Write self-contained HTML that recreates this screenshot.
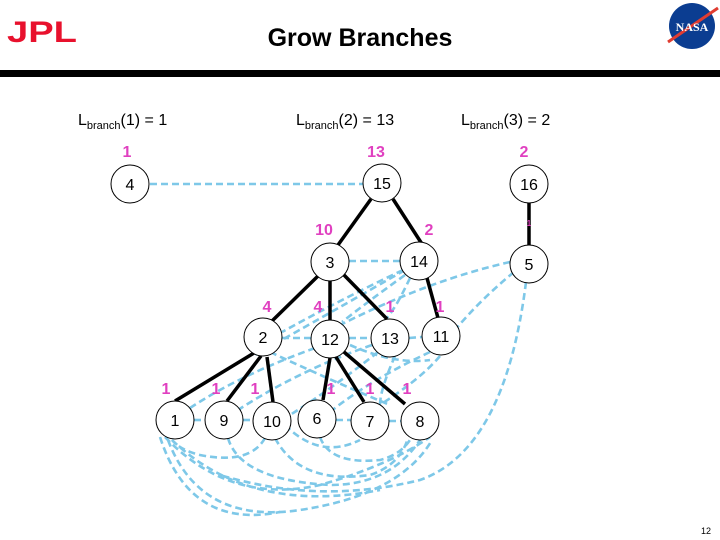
<!DOCTYPE html>
<html><head><meta charset="utf-8"><style>
body{margin:0;width:720px;height:540px;background:#fff;overflow:hidden;font-family:"Liberation Sans",Arial,sans-serif}
svg{position:absolute;left:0;top:0}
</style></head><body>
<svg width="720" height="540" viewBox="0 0 720 540" font-family="Liberation Sans, Arial, sans-serif">
<!-- JPL logo -->
<text x="7" y="42" font-size="30" font-weight="bold" fill="#e8112d" textLength="70" lengthAdjust="spacingAndGlyphs">JPL</text>
<!-- NASA logo -->
<circle cx="692" cy="26" r="23" fill="#0b3d91"/>
<path d="M668 42 L718 8" stroke="#e03c31" stroke-width="3"/>
<text x="692" y="31" font-size="12" font-weight="bold" fill="#fff" text-anchor="middle" font-family="Liberation Serif, serif">NASA</text>
<text x="360" y="46" font-size="25" font-weight="bold" text-anchor="middle" fill="#000">Grow Branches</text>
<rect x="0" y="70" width="720" height="7" fill="#000"/>
<g font-size="16" fill="#000">
<text x="78" y="125">L<tspan font-size="11" dy="4">branch</tspan><tspan dy="-4">(1) = 1</tspan></text>
<text x="296" y="125">L<tspan font-size="11" dy="4">branch</tspan><tspan dy="-4">(2) = 13</tspan></text>
<text x="461" y="125">L<tspan font-size="11" dy="4">branch</tspan><tspan dy="-4">(3) = 2</tspan></text>
</g>
<g fill="none" stroke="#7ec8e8" stroke-width="2.6" stroke-dasharray="7,4">
<line x1="150" y1="184" x2="363" y2="184"/>
<line x1="349" y1="261" x2="400" y2="261"/>
<line x1="282" y1="338" x2="311" y2="338"/>
<line x1="349" y1="338" x2="371" y2="338"/>
<line x1="409" y1="338" x2="422" y2="337"/>
<line x1="194" y1="420" x2="205" y2="420"/>
<line x1="243" y1="420" x2="251" y2="420"/>
<line x1="336" y1="420" x2="351" y2="420"/>
<line x1="389" y1="421" x2="401" y2="421"/>
<path d="M403 270 Q340 300 282 332"/>
<path d="M405 275 Q370 300 342 322"/>
<path d="M410 278 Q395 310 385 320"/>
<path d="M510 262 Q430 280 340 325"/>
<path d="M514 272 Q480 300 455 330"/>
<path d="M526 282 Q505 450 420 480 Q320 505 220 475"/>
<path d="M405 270 Q300 330 255 355"/>
<path d="M372 345 Q300 370 238 410"/>
<path d="M315 348 Q240 375 190 408"/>
<path d="M430 352 Q370 380 330 412"/>
<path d="M378 352 Q330 390 290 415"/>
<path d="M270 352 Q330 380 390 405"/>
<path d="M350 345 Q395 365 430 360"/>
<path d="M440 356 Q420 380 375 408"/>
<path d="M395 356 Q380 390 380 405"/>
<path d="M165 437 Q230 505 320 485 Q390 465 430 437"/>
<path d="M168 440 Q200 525 300 510 Q400 495 432 440"/>
<path d="M172 440 Q250 515 380 490"/>
<path d="M228 438 Q240 480 330 485 Q390 485 420 440"/>
<path d="M265 438 Q250 465 200 455 Q180 450 172 440"/>
<path d="M275 438 Q300 485 370 475 Q400 465 408 438"/>
<path d="M320 437 Q330 465 380 460 Q400 455 410 440"/>
<path d="M285 425 Q320 460 360 440"/>
<path d="M160 437 Q190 530 280 512"/>
</g>
<g stroke="#000" stroke-width="3.5">
<line x1="371" y1="199" x2="338" y2="245"/>
<line x1="393" y1="199" x2="422" y2="244"/>
<line x1="529" y1="203" x2="529" y2="245"/>
<line x1="318" y1="276" x2="272" y2="321"/>
<line x1="330" y1="281" x2="330" y2="320"/>
<line x1="344" y1="275" x2="387" y2="319"/>
<line x1="427" y1="278" x2="438" y2="318"/>
<line x1="254" y1="353" x2="175" y2="401"/>
<line x1="261" y1="356" x2="227" y2="401"/>
<line x1="267" y1="357" x2="273" y2="402"/>
<line x1="330" y1="358" x2="323" y2="400"/>
<line x1="336" y1="357" x2="364" y2="402"/>
<line x1="344" y1="352" x2="405" y2="404"/>
</g>
<g fill="#fff" stroke="#000" stroke-width="1">
<circle cx="130" cy="184" r="19"/><circle cx="382" cy="183" r="19"/><circle cx="529" cy="184" r="19"/>
<circle cx="330" cy="262" r="19"/><circle cx="419" cy="261" r="19"/><circle cx="529" cy="264" r="19"/>
<circle cx="263" cy="337" r="19"/><circle cx="330" cy="339" r="19"/><circle cx="390" cy="338" r="19"/><circle cx="441" cy="336" r="19"/>
<circle cx="175" cy="420" r="19"/><circle cx="224" cy="420" r="19"/><circle cx="272" cy="421" r="19"/><circle cx="317" cy="419" r="19"/><circle cx="370" cy="421" r="19"/><circle cx="420" cy="421" r="19"/>
</g>
<g font-size="16" text-anchor="middle" fill="#000">
<text x="130" y="190">4</text><text x="382" y="189">15</text><text x="529" y="190">16</text>
<text x="330" y="268">3</text><text x="419" y="267">14</text><text x="529" y="270">5</text>
<text x="263" y="343">2</text><text x="330" y="345">12</text><text x="390" y="344">13</text><text x="441" y="342">11</text>
<text x="175" y="426">1</text><text x="224" y="426">9</text><text x="272" y="427">10</text><text x="317" y="424">6</text><text x="370" y="427">7</text><text x="420" y="427">8</text>
</g>
<g font-size="16" font-weight="bold" fill="#e040c0" text-anchor="middle">
<text x="127" y="157">1</text><text x="376" y="157">13</text><text x="524" y="157">2</text>
<text x="324" y="235">10</text><text x="429" y="235">2</text><text x="529" y="226" font-size="8">1</text>
<text x="267" y="312">4</text><text x="318" y="312">4</text><text x="390" y="312">1</text><text x="440" y="312">1</text>
<text x="166" y="394">1</text><text x="216" y="394">1</text><text x="255" y="394">1</text><text x="331" y="394">1</text><text x="370" y="394">1</text><text x="407" y="394">1</text>
</g>
<text x="706" y="534" font-size="9" text-anchor="middle" fill="#000">12</text>
</svg>
</body></html>
